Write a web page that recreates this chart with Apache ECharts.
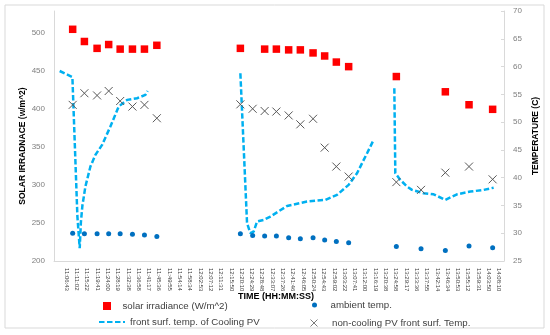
<!DOCTYPE html>
<html><head><meta charset="utf-8">
<script src="https://cdn.jsdelivr.net/npm/echarts@6/dist/echarts.min.js"></script>
<style>html,body{margin:0;padding:0;background:#fff}#c{width:550px;height:335px}</style>
</head><body><div id="c"></div>
<script>
// ---- tick labels of the time axis ----
const tickLabels = ['11:06:43','11:11:02','11:15:22','11:19:41','11:24:00','11:28:19','11:32:38','11:36:58','11:41:17','11:45:36','11:49:55','11:54:14','11:58:34','12:02:53','12:07:12','12:11:31','12:15:50','12:20:10','12:24:29','12:28:48','12:33:07','12:37:26','12:41:46','12:46:05','12:50:24','12:54:43','12:59:02','13:03:22','13:07:41','13:12:00','13:16:19','13:20:38','13:24:58','13:29:17','13:33:36','13:37:55','13:42:14','13:46:34','13:50:53','13:55:12','13:59:31','14:03:50','14:08:10'];

// ---- marker sample times and values (null = no point) ----
const markerTimes = ['11:09:21','11:14:16','11:19:35','11:24:27','11:29:16','11:34:25','11:39:27','11:44:39',
  '12:19:41','12:24:50','12:29:52','12:34:47','12:39:56','12:44:50','12:50:10','12:55:02','12:59:56','13:05:06',
  '13:25:06','13:35:27','13:45:39','13:55:35','14:05:29'];
const irradiance = [504, 488, 479, 484, 478, 478, 478, 483,
  479, null, 478, 478, 477, 477, 473, 469, 461, 455,
  442, null, 422, 405, 399];
const ambientTemp = [30.0, 29.9, 29.9, 29.9, 29.9, 29.8, 29.7, 29.4,
  29.9, 29.6, 29.5, 29.5, 29.2, 29.0, 29.2, 28.8, 28.5, 28.3,
  27.6, 27.2, 26.9, 27.7, 27.4];
const nonCoolingTemp = [53.1, 55.2, 54.8, 55.6, 53.8, 52.8, 53.1, 50.7,
  53.2, 52.4, 52.0, 51.9, 51.2, 49.6, 50.6, 45.4, 42.0, 40.2,
  39.2, 37.8, 40.9, 42.0, 39.7];

// ---- cooling PV front surface temperature (three runs) ----
const coolTimes1 = ['11:03:54','11:09:14','11:11:20','11:12:18','11:12:48','11:13:26','11:14:41','11:16:47','11:18:53','11:21:41','11:25:10','11:28:39','11:32:10','11:36:22','11:39:51','11:40:49'];
const coolTemps1 = [59.2, 58.1, 33.0, 27.3, 32.0, 35.0, 38.4, 42.0, 44.1, 45.9, 49.2, 52.8, 54.0, 54.3, 54.9, 55.6];
const coolTimes2 = ['12:19:41','12:22:29','12:23:52','12:24:35','12:25:15','12:26:41','12:29:27','12:32:16','12:39:16','12:47:39','12:55:19','13:00:13','13:05:06','13:08:37','13:12:49','13:15:35'];
const coolTemps2 = [58.8, 31.8, 30.0, 29.7, 30.3, 32.1, 32.4, 33.0, 34.9, 35.7, 36.0, 36.9, 38.7, 40.8, 44.4, 46.8];
const coolTimes3 = ['13:24:15','13:24:40','13:26:46','13:29:35','13:31:40','13:36:32','13:40:44','13:45:39','13:50:33','13:56:08','14:01:43','14:05:54'];
const coolTemps3 = [56.1, 40.8, 39.6, 38.4, 37.8, 37.2, 37.0, 36.0, 37.0, 37.5, 37.8, 38.2];

function toSec(s){const p=s.split(':').map(Number);return p[0]*3600+p[1]*60+p[2];}
const labelMap = {};
tickLabels.forEach(l => { labelMap[toSec(l)] = l; });
function pairs(times, vals){
  const out=[];
  times.forEach((t,i)=>{ if(vals[i]!=null) out.push([toSec(t), vals[i]]); });
  return out;
}

const NAME_IRR = 'solar irradiance (W/m^2)';
const NAME_AMB = 'ambient temp.';
const NAME_COOL = 'front surf. temp. of Cooling PV';
const NAME_NON = 'non-cooling PV front surf. Temp.';
const X_PATH = 'path://M0,0L10,10M10,0L0,10';
const SQ_PATH = 'path://M0,0H10V10H0Z';

const coolLine = {color:'#00B0F0', width:2.5, type:[5.5,2.5]};
const legendText = {fontSize:9.7, color:'#404040', fontFamily:'Liberation Sans'};
const axisLabelStyle = {fontSize:8, color:'#7F7F7F', fontFamily:'Liberation Sans'};
const titleStyle = {fontSize:8.5, fontWeight:'bold', color:'#000', fontFamily:'Liberation Sans'};

const chart = echarts.init(document.getElementById('c'), null, {renderer:'canvas'});
chart.setOption({
  animation:false,
  backgroundColor:'#fff',
  grid:{left:54, right:46, top:11, bottom:74, containLabel:false},
  graphic:[{type:'rect', shape:{x:5,y:5,width:539,height:323}, style:{fill:'none', stroke:'#D9D9D9', lineWidth:1}, silent:true}],
  xAxis:{
    type:'value', min:39691, max:51015,
    name:'TIME (HH:MM:SS)', nameLocation:'middle', nameGap:31, nameMoveOverlap:false,
    nameTextStyle:Object.assign({}, titleStyle, {fontSize:9, padding:[0,6,0,0]}),
    axisLine:{show:true, lineStyle:{color:'#D9D9D9', width:1}},
    axisTick:{show:false},
    splitLine:{show:false},
    axisLabel:{customValues: tickLabels.map(toSec), formatter: v => labelMap[v] || '', rotate:-90, fontSize:6, color:'#404040', margin:7, fontFamily:'Liberation Sans', hideOverlap:false}
  },
  yAxis:[
    {type:'value', position:'left', min:200, max:528, interval:50,
     name:'SOLAR IRRADNACE (w/m^2)', nameLocation:'middle', nameGap:26.5, nameRotate:90, nameMoveOverlap:false,
     nameTextStyle:Object.assign({padding:[0,20,0,0]}, titleStyle),
     axisLine:{show:true, lineStyle:{color:'#D9D9D9'}}, axisTick:{show:false}, splitLine:{show:false},
     axisLabel:Object.assign({margin:9, showMaxLabel:false}, axisLabelStyle)},
    {type:'value', position:'right', min:25, max:70, interval:5,
     name:'TEMPERATURE (C)', nameLocation:'middle', nameGap:27, nameRotate:90, nameMoveOverlap:false,
     nameTextStyle:titleStyle,
     axisLine:{show:true, lineStyle:{color:'#D9D9D9'}}, axisTick:{show:true, inside:true, length:3, lineStyle:{color:'#D9D9D9'}}, splitLine:{show:false},
     axisLabel:Object.assign({margin:9}, axisLabelStyle)}
  ],
  legend:[
    {data:[{name:NAME_IRR, icon:SQ_PATH}], left:98, top:296, itemWidth:21, itemHeight:8, textStyle:legendText, selectedMode:false},
    {data:[{name:NAME_AMB, icon:'circle'}], left:307, top:295, itemWidth:22, itemHeight:5, textStyle:legendText, selectedMode:false},
    {data:[{name:NAME_COOL}], left:93, top:312, itemWidth:26, itemHeight:8, textStyle:legendText, selectedMode:false, itemStyle:{opacity:0}},
    {data:[{name:NAME_NON, icon:X_PATH}], left:303, top:312, itemWidth:26, itemHeight:7, textStyle:legendText, selectedMode:false, itemStyle:{color:'none', borderColor:'#595959', borderWidth:0.8}}
  ],
  series:[
    {name:NAME_COOL, type:'line', yAxisIndex:1, data:pairs(coolTimes1, coolTemps1), symbol:'none', showSymbol:false, lineStyle:coolLine, itemStyle:{color:'#00B0F0'}, z:2},
    {name:NAME_COOL, type:'line', yAxisIndex:1, data:pairs(coolTimes2, coolTemps2), symbol:'none', showSymbol:false, lineStyle:coolLine, itemStyle:{color:'#00B0F0'}, z:2},
    {name:NAME_COOL, type:'line', yAxisIndex:1, data:pairs(coolTimes3, coolTemps3), symbol:'none', showSymbol:false, lineStyle:coolLine, itemStyle:{color:'#00B0F0'}, z:2},
    {name:NAME_IRR, type:'scatter', yAxisIndex:0, data:pairs(markerTimes, irradiance), symbol:'rect', symbolSize:7.5, itemStyle:{color:'#FF0000', opacity:1}, z:3},
    {name:NAME_AMB, type:'scatter', yAxisIndex:1, data:pairs(markerTimes, ambientTemp), symbol:'circle', symbolSize:5, itemStyle:{color:'#0070C0', opacity:1}, z:3},
    {name:NAME_NON, type:'scatter', yAxisIndex:1, data:pairs(markerTimes, nonCoolingTemp), symbol:X_PATH, symbolSize:8, itemStyle:{color:'none', borderColor:'#595959', borderWidth:1, opacity:1}, z:3}
  ]
});
</script></body></html>
